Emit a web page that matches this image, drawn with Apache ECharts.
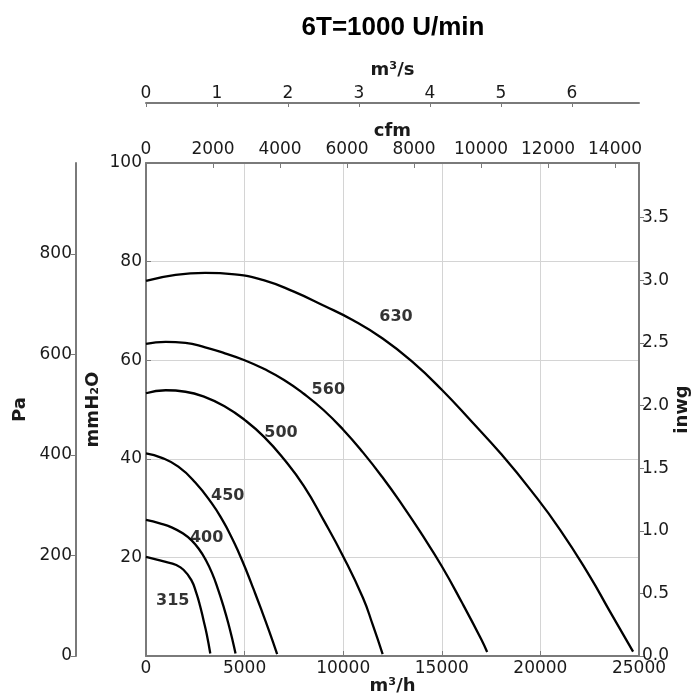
<!DOCTYPE html>
<html>
<head>
<meta charset="utf-8">
<script src="https://cdn.jsdelivr.net/npm/echarts@6/dist/echarts.min.js"></script>
<style>html,body{margin:0;padding:0;background:#fff;overflow:hidden}#c{width:696px;height:697px}</style>
</head>
<body>
<div id="c"></div>
<script>
// Airflow (m³/h) and static pressure (mmH₂O)
const q315 = [0, 500, 1000, 1500, 1900, 2300, 2550, 2740, 2920, 3080, 3260];
const p315 = [20.1, 19.6, 19.1, 18.5, 17.5, 15.4, 12.8, 10.2, 7.2, 4.4, 0.5];
const q400 = [0, 700, 1300, 1900, 2300, 2700, 3000, 3350, 3670, 3950, 4170, 4400, 4540];
const p400 = [27.6, 26.9, 26.1, 24.8, 23.5, 21.6, 19.7, 16.8, 13.3, 9.8, 6.7, 3.0, 0.5];
const q450 = [0, 800, 1640, 2500, 3330, 3900, 4350, 4700, 5100, 5450, 5820, 6250, 6650];
const p450 = [41.1, 40.2, 38.4, 35.2, 31.0, 27.4, 24.0, 21.0, 17.2, 13.6, 9.7, 5.0, 0.4];
const q500 = [0, 1000, 2000, 3000, 4000, 5000, 6000, 7000, 8000, 9000, 10000, 11000, 11500, 12000];
const p500 = [53.3, 53.9, 53.6, 52.5, 50.6, 47.9, 44.4, 39.9, 34.5, 27.6, 20.2, 11.8, 6.3, 0.4];
const q560 = [0, 1000, 2000, 3000, 4000, 5000, 6000, 7000, 8000, 9000, 10000, 11000, 12000, 13000, 14000, 15000, 16000, 17000, 17300];
const p560 = [63.3, 63.7, 63.5, 62.6, 61.4, 60.0, 58.2, 56.0, 53.2, 49.9, 45.9, 41.3, 36.2, 30.6, 24.6, 18.2, 11.0, 3.4, 0.8];
const q630 = [0, 1500, 3000, 4500, 6000, 7500, 9000, 10500, 12000, 13500, 15000, 16500, 18000, 19500, 21000, 22500, 23500, 24700];
const p630 = [76.1, 77.3, 77.7, 77.4, 76.2, 73.9, 71.1, 68.1, 64.4, 59.7, 54.0, 47.6, 41.0, 33.7, 25.6, 16.2, 9.2, 0.9];

const curveNames = ['315', '400', '450', '500', '560', '630'];
const labelQ = [1354, 3077, 4143, 6846, 9245, 12680];
const labelP = [11.2, 24.0, 32.5, 45.2, 54.0, 68.8];

// axis ticks
const m3hTicks = [0, 5000, 10000, 15000, 20000, 25000];
const mmTicks = [0, 20, 40, 60, 80, 100];
const paTicks = [0, 200, 400, 600, 800];
const inwgTicks = [0, 0.5, 1.0, 1.5, 2.0, 2.5, 3.0, 3.5];
const cfmTicks = [0, 2000, 4000, 6000, 8000, 10000, 12000, 14000];
const m3sTicks = [0, 1, 2, 3, 4, 5, 6];

const Q_MAX = 25000, P_MAX = 100;
const CFM_PER_M3H = 0.588578, PA_PER_MM = 9.80665, MM_PER_INWG = 25.4;

const curves = [[q315, p315], [q400, p400], [q450, p450], [q500, p500], [q560, p560], [q630, p630]];

const axisGrey = '#7a7a7a';
const tickFont = { fontFamily: 'DejaVu Sans', fontSize: 17, color: '#1a1a1a' };
const nameFont = { fontFamily: 'DejaVu Sans', fontSize: 18, fontWeight: 'bold', color: '#1a1a1a' };
const plain = v => String(v);
const lineOf = w => ({ show: true, onZero: false, lineStyle: { color: axisGrey, width: w } });

const series = curves.map((c, i) => ({
  type: 'line', name: curveNames[i], xAxisIndex: 0, yAxisIndex: 0,
  data: c[0].map((q, k) => [q, c[1][k]]),
  smooth: 0.5, showSymbol: false, symbol: 'none',
  lineStyle: { color: '#000', width: 2.3 }, silent: true, z: 3
}));
series.push({
  type: 'scatter', xAxisIndex: 0, yAxisIndex: 0, symbolSize: 0, silent: true, z: 4,
  data: curveNames.map((n, i) => ({ name: n, value: [labelQ[i], labelP[i]] })),
  label: { show: true, position: 'inside', formatter: p => p.name,
           fontFamily: 'DejaVu Sans', fontWeight: 'bold', fontSize: 16, color: '#000' }
});

const chart = echarts.init(document.getElementById('c'), null, { renderer: 'canvas' });
chart.setOption({
  animation: false,
  backgroundColor: '#fff',
  title: {
    text: '6T=1000 U/min', left: 388, top: 10, textAlign: 'center',
    textStyle: { fontFamily: 'Liberation Sans', fontWeight: 'bold', fontSize: 26, color: '#000' }
  },
  grid: { left: 146, right: 57, top: 163, bottom: 41, containLabel: false, outerBoundsMode: 'none' },
  xAxis: [
    { type: 'value', position: 'bottom', min: 0, max: Q_MAX, interval: 5000,
      name: 'm³/h', nameLocation: 'middle', nameGap: 21, nameMoveOverlap: false, nameTextStyle: nameFont,
      axisLine: lineOf(2),
      axisTick: { inside: true, length: 5, lineStyle: { color: axisGrey }, customValues: m3hTicks },
      axisLabel: Object.assign({ margin: 4, formatter: plain, customValues: m3hTicks }, tickFont),
      splitLine: { show: true, lineStyle: { color: '#d4d4d4', width: 1 } } },
    { type: 'value', position: 'top', min: 0, max: Q_MAX * CFM_PER_M3H,
      name: 'cfm', nameLocation: 'middle', nameGap: 23, nameMoveOverlap: false, nameTextStyle: nameFont,
      axisLine: lineOf(2),
      axisTick: { inside: true, length: 5, lineStyle: { color: axisGrey }, customValues: cfmTicks },
      axisLabel: Object.assign({ margin: 5, formatter: plain, customValues: cfmTicks }, tickFont),
      splitLine: { show: false } },
    { type: 'value', position: 'top', offset: 60, min: 0, max: Q_MAX / 3600,
      name: 'm³/s', nameLocation: 'middle', nameGap: 24, nameMoveOverlap: false, nameTextStyle: nameFont,
      axisLine: lineOf(2),
      axisTick: { inside: true, length: 4, lineStyle: { color: axisGrey }, customValues: m3sTicks },
      axisLabel: Object.assign({ margin: 1, formatter: plain, customValues: m3sTicks }, tickFont),
      splitLine: { show: false } }
  ],
  yAxis: [
    { type: 'value', position: 'left', min: 0, max: P_MAX, interval: 20,
      name: 'mmH₂O', nameLocation: 'middle', nameRotate: 90, nameGap: 44, nameMoveOverlap: false, nameTextStyle: nameFont,
      axisLine: lineOf(2),
      axisTick: { show: true, inside: true, length: 5, lineStyle: { color: axisGrey }, customValues: mmTicks },
      axisLabel: Object.assign({ margin: 4, formatter: v => (v === 0 ? '' : String(v)), customValues: mmTicks }, tickFont),
      splitLine: { show: true, lineStyle: { color: '#d4d4d4', width: 1 } } },
    { type: 'value', position: 'left', offset: 70, min: 0, max: P_MAX * PA_PER_MM,
      name: 'Pa', nameLocation: 'middle', nameRotate: 90, nameGap: 47, nameMoveOverlap: false, nameTextStyle: nameFont,
      axisLine: lineOf(2),
      axisTick: { show: true, inside: false, length: 5, lineStyle: { color: axisGrey }, customValues: paTicks },
      axisLabel: Object.assign({ margin: 4, formatter: plain, customValues: paTicks }, tickFont),
      splitLine: { show: false } },
    { type: 'value', position: 'right', min: 0, max: P_MAX / MM_PER_INWG,
      name: 'inwg', nameLocation: 'middle', nameRotate: 90, nameGap: 34, nameMoveOverlap: false, nameTextStyle: nameFont,
      axisLine: lineOf(2),
      axisTick: { show: true, inside: false, length: 5, lineStyle: { color: axisGrey }, customValues: inwgTicks },
      axisLabel: Object.assign({ margin: 3, formatter: v => v.toFixed(1), customValues: inwgTicks }, tickFont),
      splitLine: { show: false } }
  ],
  series: series
});
</script>
</body>
</html>
